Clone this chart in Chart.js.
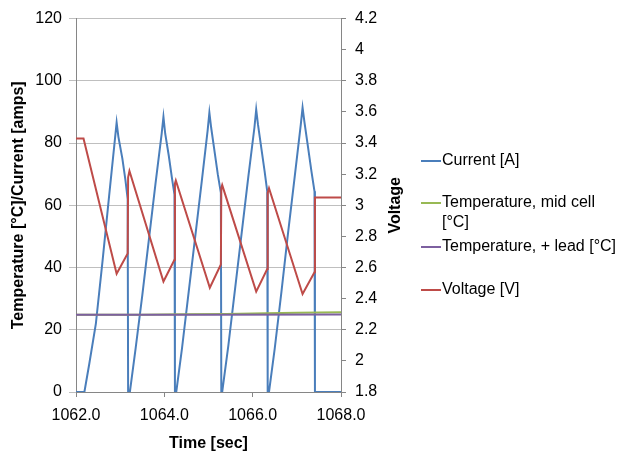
<!DOCTYPE html>
<html>
<head>
<meta charset="utf-8">
<script src="https://cdn.jsdelivr.net/npm/chart.js@4/dist/chart.umd.min.js"></script>
<style>
  body { margin: 0; background: #fff; }
  #wrap { position: relative; width: 625px; height: 454px; }
  .legend { position: absolute; left: 421px; font: 16px "Liberation Sans", Arial, sans-serif; color: #000; line-height: 20px; }
  .legend .sw { position: absolute; left: 0; top: 10px; width: 20px; height: 2px; }
  .legend .tx { margin-left: 21px; white-space: nowrap; }
</style>
</head>
<body>
<div id="wrap">
  <canvas id="chart" width="625" height="454"></canvas>
  <div class="legend" style="top:150px"><span class="sw" style="background:#4a7ebb"></span><div class="tx">Current [A]</div></div>
  <div class="legend" style="top:192px"><span class="sw" style="background:#98b954"></span><div class="tx">Temperature, mid cell<br>[°C]</div></div>
  <div class="legend" style="top:236px"><span class="sw" style="background:#7d60a0"></span><div class="tx">Temperature, + lead [°C]</div></div>
  <div class="legend" style="top:279px"><span class="sw" style="background:#be4b48"></span><div class="tx">Voltage [V]</div></div>
</div>
<script>
// tick labels
const xTicks = [1062, 1064, 1066, 1068];
const leftTicks = [0, 20, 40, 60, 80, 100, 120];
const rightTicks = [1.8, 2, 2.2, 2.4, 2.6, 2.8, 3, 3.2, 3.4, 3.6, 3.8, 4, 4.2];

// Current [A]
const currentTime = [
  1062.0, 1062.19, 1062.30, 1062.45, 1062.60, 1062.75, 1062.88, 1062.92, 1062.96, 1063.05, 1063.12, 1063.17, 1063.18,
  1063.22, 1063.35, 1063.50, 1063.65, 1063.80, 1063.94, 1063.98, 1064.02, 1064.10, 1064.17, 1064.23, 1064.24,
  1064.27, 1064.40, 1064.55, 1064.70, 1064.85, 1064.98, 1065.02, 1065.06, 1065.14, 1065.21, 1065.28, 1065.29,
  1065.31, 1065.45, 1065.60, 1065.75, 1065.90, 1066.04, 1066.08, 1066.12, 1066.20, 1066.27, 1066.33, 1066.34,
  1066.37, 1066.50, 1066.65, 1066.80, 1066.95, 1067.09, 1067.13, 1067.17, 1067.25, 1067.33, 1067.40, 1067.41,
  1068.0
];
const currentVals = [
  0, 0, 9, 22, 42, 63, 81, 86.6, 82, 75, 68, 62, 0,
  0, 14, 31, 49, 67, 83, 88.4, 83, 76, 69, 63.4, 0,
  0, 14, 32, 50, 68, 84, 89.8, 85, 77, 70, 64, 0,
  0, 15, 33, 51, 69, 85, 90.8, 86, 78, 71, 64.5, 0,
  0, 14, 32, 51, 69, 86, 91.4, 87, 79, 71, 64.5, 0,
  0
];

// Temperature, mid cell [°C]
const midTime = [1062.0, 1063.5, 1064.4, 1065.4, 1066.3, 1067.0, 1068.0];
const midVals = [24.8, 24.8, 25.0, 25.1, 25.3, 25.5, 25.6];

// Temperature, + lead [°C]
const leadTime = [1062.0, 1065.0, 1068.0];
const leadVals = [24.8, 24.8, 24.9];

// Voltage [V]
const voltTime = [
  1062.0, 1062.17, 1062.92, 1063.17, 1063.18, 1063.21,
  1063.98, 1064.23, 1064.24, 1064.26,
  1065.03, 1065.28, 1065.29, 1065.31,
  1066.08, 1066.33, 1066.34, 1066.37,
  1067.13, 1067.40, 1067.41, 1068.0
];
const voltVals = [
  3.43, 3.43, 2.56, 2.69, 3.18, 3.22,
  2.51, 2.65, 3.14, 3.16,
  2.47, 2.62, 3.11, 3.13,
  2.445, 2.59, 3.08, 3.11,
  2.43, 2.57, 3.05, 3.05
];

const pts = (xs, ys) => xs.map((x, i) => ({ x, y: ys[i] }));
const fontFamily = '"Liberation Sans", Arial, sans-serif';
const font = { family: fontFamily, size: 16 };
const boldFont = { family: fontFamily, size: 16, weight: 'bold' };

function lineSet(label, data, color, axis, order) {
  return {
    label, data, yAxisID: axis, order,
    borderColor: color, backgroundColor: color,
    borderWidth: 2, pointRadius: 0, tension: 0, fill: false
  };
}

// right axis title reads bottom-to-top, like the left one
const rightTitle = {
  id: 'rightTitle',
  afterDraw(chart) {
    const ctx = chart.ctx;
    const area = chart.chartArea;
    ctx.save();
    ctx.translate(396, (area.top + area.bottom) / 2);
    ctx.rotate(-Math.PI / 2);
    ctx.font = `bold 16px ${fontFamily}`;
    ctx.fillStyle = '#000';
    ctx.textAlign = 'center';
    ctx.textBaseline = 'middle';
    ctx.fillText('Voltage', 0, 0);
    ctx.restore();
  }
};

new Chart(document.getElementById('chart'), {
  type: 'line',
  data: {
    datasets: [
      lineSet('Current [A]', pts(currentTime, currentVals), '#4a7ebb', 'y', 3),
      lineSet('Temperature, mid cell [°C]', pts(midTime, midVals), '#98b954', 'y', 2),
      lineSet('Temperature, + lead [°C]', pts(leadTime, leadVals), '#7d60a0', 'y', 1),
      lineSet('Voltage [V]', pts(voltTime, voltVals), '#be4b48', 'y2', 0)
    ]
  },
  options: {
    responsive: false,
    animation: false,
    layout: { padding: { left: 0, right: 214, top: 16, bottom: 0 } },
    plugins: { legend: { display: false }, tooltip: { enabled: false } },
    scales: {
      x: {
        type: 'linear', min: 1062, max: 1068,
        afterBuildTicks: axis => { axis.ticks = xTicks.map(v => ({ value: v })); },
        afterFit: axis => { axis.height = 62; },
        ticks: { font, color: '#000', padding: 9, maxRotation: 0, callback: v => v.toFixed(1) },
        grid: { drawOnChartArea: false, tickLength: 5, color: '#868686' },
        border: { color: '#868686' },
        title: { display: true, text: 'Time [sec]', font: boldFont, color: '#000', padding: { top: 0, bottom: 1 } }
      },
      y: {
        position: 'left', min: 0, max: 120,
        afterBuildTicks: axis => { axis.ticks = leftTicks.map(v => ({ value: v })); },
        afterFit: axis => { axis.width = 76; },
        ticks: { font, color: '#000', padding: 7 },
        grid: { color: '#bfbfbf', tickLength: 7 },
        border: { color: '#868686' },
        title: { display: true, text: 'Temperature [°C]/Current [amps]', font: boldFont, color: '#000', padding: { top: 9, bottom: 0 } }
      },
      y2: {
        position: 'right', min: 1.8, max: 4.2,
        afterBuildTicks: axis => { axis.ticks = rightTicks.map(v => ({ value: v })); },
        afterFit: axis => { axis.width = 70; },
        ticks: { font, color: '#000', padding: 9, callback: v => String(Math.round(v * 10) / 10) },
        grid: { drawOnChartArea: false, tickLength: 5, color: '#868686' },
        border: { color: '#868686' }
      }
    }
  },
  plugins: [rightTitle]
});
</script>
</body>
</html>
